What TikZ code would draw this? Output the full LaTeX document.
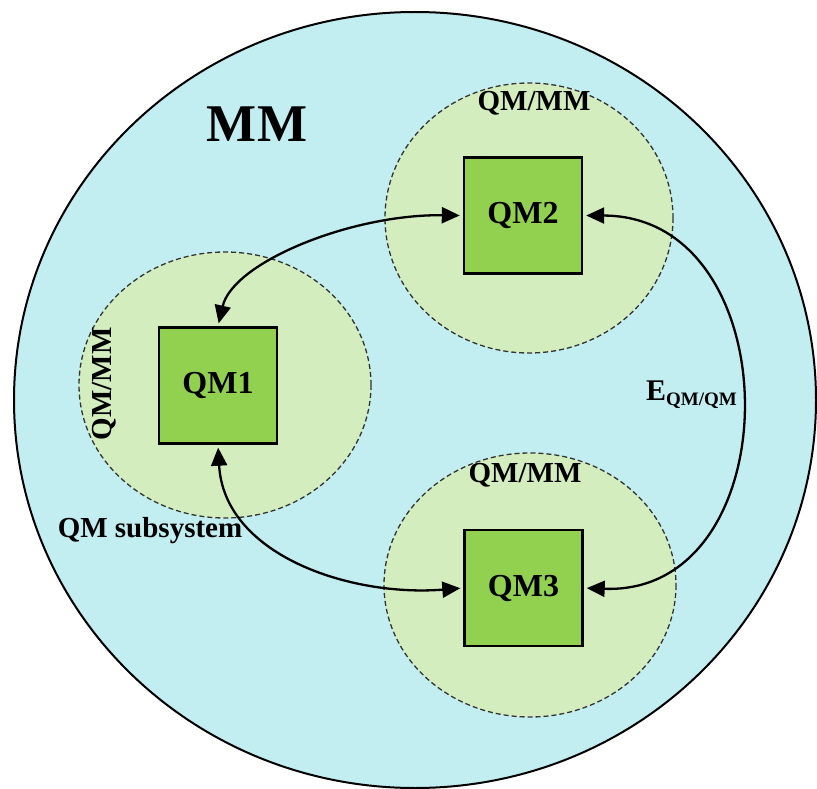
\documentclass[tikz,border=0pt]{standalone}
\usepackage{fontspec}
\setmainfont{Liberation Serif}
\usetikzlibrary{arrows.meta}
\definecolor{bgcyan}{HTML}{C2EEF1}
\definecolor{lightgreen}{HTML}{D3EDBF}
\definecolor{boxgreen}{HTML}{92D050}
\definecolor{dashgray}{HTML}{333333}
\tikzset{
  zone/.style={draw=dashgray, line width=1.3pt, dash pattern=on 5pt off 3pt, fill=lightgreen},
  qmbox/.style={draw=black, line width=2.4pt, fill=boxgreen, minimum width=118pt, minimum height=116pt, inner sep=0pt,
    font=\fontsize{32}{32}\selectfont\bfseries},
  lbl/.style={font=\fontsize{29}{29}\selectfont\bfseries, inner sep=0pt},
  arr/.style={line width=2.3pt, {Triangle[length=18pt,width=16pt]}-{Triangle[length=18pt,width=16pt]}, shorten <=3pt, shorten >=3pt}
}
\begin{document}
\begin{tikzpicture}[x=1pt,y=-1pt]
\useasboundingbox (0,0) rectangle (817,789);
% big MM region
\draw[line width=2pt, fill=bgcyan] (415,400) ellipse [x radius=401, y radius=388];
% QM/MM zones
\draw[zone] (529,218) ellipse [x radius=144, y radius=135];
\draw[zone] (225,385) ellipse [x radius=146, y radius=133];
\draw[zone] (530,585) ellipse [x radius=146, y radius=132];
% QM boxes
\node[qmbox] (qm1) at (218,385.5) {QM1};
\node[qmbox] (qm2) at (523,215.5) {QM2};
\node[qmbox] (qm3) at (523.5,588) {QM3};
% labels
\node[font=\fontsize{53}{53}\selectfont\bfseries, inner sep=0pt] (mm) at (257,124) {MM};
\node[lbl] (z2) at (534,103) {QM/MM};
\node[lbl] (z3) at (525,475) {QM/MM};
\node[lbl, rotate=90] (z1) at (104,384) {QM/MM};
\node[lbl] (sub) at (150,531) {QM subsystem};
\node[inner sep=0pt, anchor=base west] (e) at (646,400)
  {\fontsize{30}{30}\selectfont\bfseries E\raisebox{-5pt}{\fontsize{19}{19}\selectfont QM/QM}};
% connectors
\draw[arr] (qm1.north) .. controls (233,262) and (352,214) .. (qm2.west);
\draw[arr] (qm1.south) .. controls (224,555) and (350,597) .. (qm3.west);
\draw[arr] (qm2.east) .. controls (792,216) and (792,596) .. (qm3.east);
\end{tikzpicture}
\end{document}
